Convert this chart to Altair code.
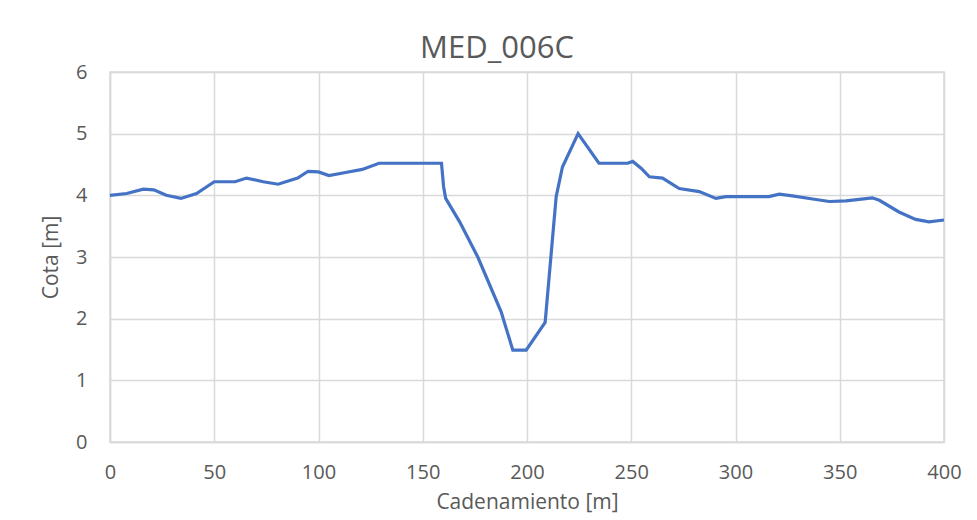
import altair as alt
import pandas as pd

cadenamiento = [0, 8, 16, 21, 27, 34, 41.5, 50, 60, 65.5, 73.5, 80.6, 90, 95, 100, 105,
                113, 121, 129, 159, 160, 161, 167.7, 176.4, 187.6, 193.2, 199.6, 208.7,
                214, 217, 224.5, 234.5, 248.3, 250.7, 254.7, 258.7, 265, 273, 282.6,
                290.6, 295.4, 316, 321, 327.3, 337, 345, 353, 365.6, 369, 378.4, 386.4,
                392.8, 400]
cota = [4.0, 4.03, 4.10, 4.09, 4.0, 3.95, 4.03, 4.22, 4.22, 4.28, 4.22, 4.18, 4.28, 4.39,
        4.38, 4.32, 4.37, 4.42, 4.52, 4.52, 4.14, 3.95, 3.57, 3.0, 2.11, 1.49, 1.49, 1.94,
        3.98, 4.46, 5.0, 4.52, 4.52, 4.55, 4.44, 4.30, 4.28, 4.11, 4.06, 3.95, 3.98, 3.98,
        4.02, 3.99, 3.94, 3.90, 3.91, 3.96, 3.92, 3.73, 3.61, 3.57, 3.60]

x_ticks = [0, 50, 100, 150, 200, 250, 300, 350, 400]
y_ticks = [0, 1, 2, 3, 4, 5, 6]

df = pd.DataFrame({"Cadenamiento": cadenamiento, "Cota": cota})

FONT = "Open Sans"
GREY = "#595959"
GRID = "#d9d9d9"

chart = alt.Chart(df).mark_line(color="#4472C4", strokeWidth=3.2).encode(
    x=alt.X("Cadenamiento:Q",
            scale=alt.Scale(domain=[0, 400], nice=False),
            axis=alt.Axis(title="Cadenamiento [m]", values=x_ticks, ticks=False,
                          labelFlush=False, labelOverlap=False,
                          labelPadding=20, titlePadding=9, labelFontSize=20,
                          titleFontSize=21, grid=True, labelFont=FONT, titleFont=FONT,
                          labelColor=GREY, titleColor=GREY, titleFontWeight="normal",
                          gridColor=GRID, gridWidth=1.5, domainColor=GRID, domainWidth=1.5)),
    y=alt.Y("Cota:Q",
            scale=alt.Scale(domain=[0, 6], nice=False),
            axis=alt.Axis(title="Cota [m]", values=y_ticks, ticks=False,
                          labelFlush=False,
                          labelPadding=23, titlePadding=14, labelFontSize=20,
                          titleFontSize=21, grid=True, labelFont=FONT, titleFont=FONT,
                          labelColor=GREY, titleColor=GREY, titleFontWeight="normal",
                          gridColor=GRID, gridWidth=1.5, domainColor=GRID, domainWidth=1.5)),
).properties(
    width=834,
    height=370,
    title=alt.TitleParams("MED_006C", fontSize=31, font=FONT, color=GREY,
                          fontWeight="normal", anchor="middle", dx=-30, offset=-3),
    autosize=alt.AutoSizeParams(type="none"),
    padding={"left": 102, "top": 64, "right": 25, "bottom": 76},
    background="white",
).configure_view(stroke=GRID, strokeWidth=1.5)

chart.save("out.html", embed_options={"renderer": "svg", "actions": False})
